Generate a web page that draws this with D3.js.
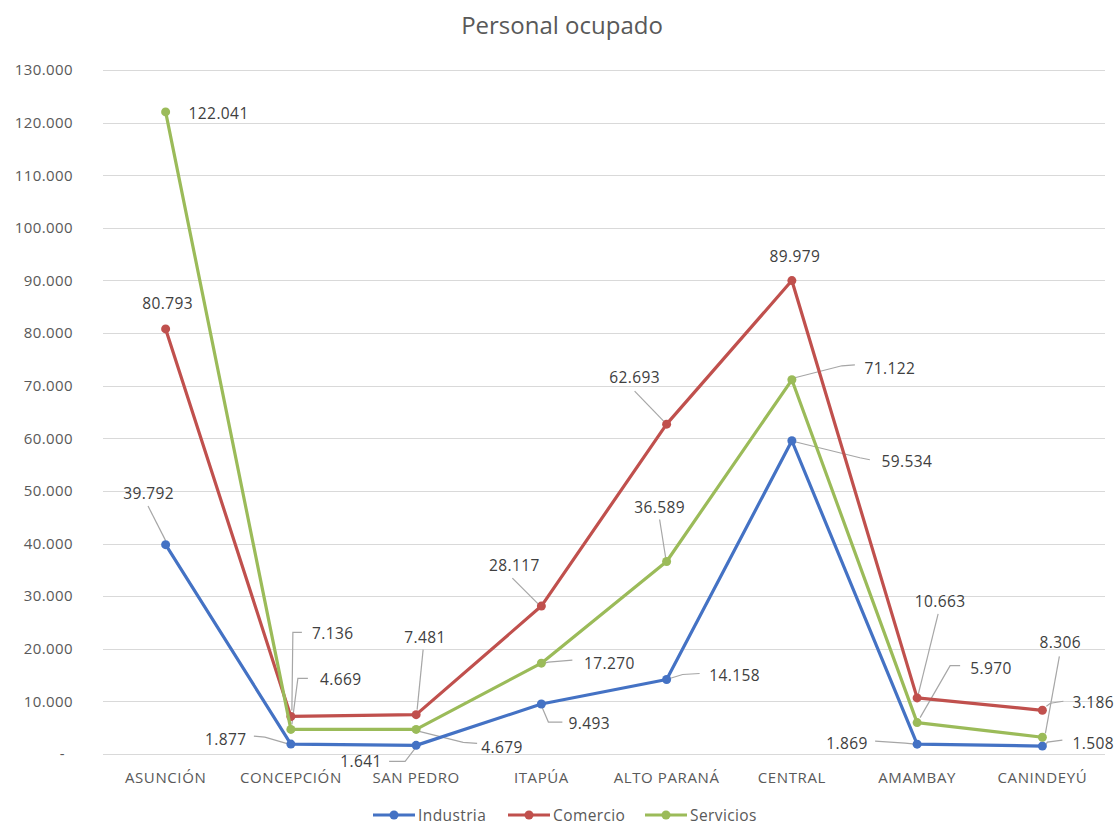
<!DOCTYPE html>
<html>
<head>
<meta charset="utf-8">
<script src="https://cdn.jsdelivr.net/npm/d3@7"></script>
<style>
  html, body { margin: 0; padding: 0; background: #fff; }
  svg { display: block; font-family: "Open Sans", "Liberation Sans", sans-serif; }
</style>
</head>
<body>
<svg id="chart" width="1116" height="825"></svg>
<script>
// ---- data ----
const categories = ["ASUNCIÓN", "CONCEPCIÓN", "SAN PEDRO", "ITAPÚA", "ALTO PARANÁ", "CENTRAL", "AMAMBAY", "CANINDEYÚ"];
const industria = [39792, 1877, 1641, 9493, 14158, 59534, 1869, 1508];
const comercio  = [80793, 7136, 7481, 28117, 62693, 89979, 10663, 8306];
const servicios = [122041, 4669, 4679, 17270, 36589, 71122, 5970, 3186];
const seriesNames = ["Industria", "Comercio", "Servicios"];
const yTicks = [0, 10000, 20000, 30000, 40000, 50000, 60000, 70000, 80000, 90000, 100000, 110000, 120000, 130000];

// ---- label layout (pixel offsets relative to each point) ----
const labelLayout = {
  Industria: [
    {dx: -17, dy: -52, leader: [[-17.6, -38.6], [0, -4]]},
    {dx: -65, dy: -5, leader: [[-37, -8], [-26, -7], [-2, 0]]},
    {dx: -55, dy: 16, leader: [[-27, 16], [-11, 16], [-1, 3]]},
    {dx: 48, dy: 19, leader: [[1, 4], [7, 18], [21, 18]]},
    {dx: 68, dy: -5, leader: [[3, -1], [16, -5], [33, -6]]},
    {dx: 115, dy: 20, leader: [[3, 1], [68, 17], [78, 19]]},
    {dx: -70, dy: -1, leader: [[-42, -3], [-12, -1], [-2, 0]]},
    {dx: 51, dy: -3, leader: [[3, -1], [5, -4], [20, -6]]}
  ],
  Comercio: [
    {dx: 2, dy: -26, leader: null},
    {dx: 42, dy: -83, leader: [[11, -84], [2, -84], [1, -6]]},
    {dx: 9, dy: -78, leader: [[7, -65], [1, -5]]},
    {dx: -27, dy: -41, leader: [[-29, -28], [-3, -2]]},
    {dx: -32, dy: -47, leader: [[-32, -33], [-3, -3]]},
    {dx: 3, dy: -25, leader: null},
    {dx: 23, dy: -97, leader: [[21, -84], [1, -3]]},
    {dx: 18, dy: -68, leader: [[17, -54], [3, 23]]}
  ],
  Servicios: [
    {dx: 53, dy: 1, leader: null},
    {dx: 50, dy: -50, leader: [[17, -51], [7, -51], [1, -5]]},
    {dx: 86, dy: 18, leader: [[3, 2], [47, 13], [61, 14]]},
    {dx: 68, dy: 0, leader: [[3, 0], [7, -1], [31, -3]]},
    {dx: -7, dy: -54, leader: [[-7, -42], [-1, -4]]},
    {dx: 98, dy: -12, leader: [[3, -2], [50, -14], [63, -15]]},
    {dx: 74, dy: -55, leader: [[43, -57], [33, -57], [3, -5]]},
    {dx: 51, dy: -35, leader: [[21, -36], [8, -34], [4, -31]]}
  ]
};

const colors = {Industria: "#4472C4", Comercio: "#C0504D", Servicios: "#9BBB59"};
const seriesData = {Industria: industria, Comercio: comercio, Servicios: servicios};

// ---- layout ----
const svg = d3.select("#chart");
const margin = {left: 103, right: 11, top: 70, bottom: 71};
const W = 1116, H = 825;

const x = d3.scaleBand().domain(categories).range([margin.left, W - margin.right]);
const y = d3.scaleLinear().domain([0, 130000]).range([H - margin.bottom, margin.top]);

const fmt = v => v === 0 ? "-" : d3.format(",")(v).replace(/,/g, ".");

// title
svg.append("text")
  .attr("x", 562).attr("y", 34)
  .attr("text-anchor", "middle")
  .attr("font-size", 24)
  .attr("fill", "#595959")
  .text("Personal ocupado");

// gridlines
svg.append("g").selectAll("line").data(yTicks).join("line")
  .attr("x1", margin.left).attr("x2", W - margin.right)
  .attr("y1", d => Math.round(y(d)) + 0.5).attr("y2", d => Math.round(y(d)) + 0.5)
  .attr("stroke", "#D9D9D9").attr("stroke-width", 1.2);

// y axis labels
const yAxis = d3.axisLeft(y).tickValues(yTicks).tickFormat(fmt).tickSize(0).tickPadding(0);
const yg = svg.append("g").attr("transform", `translate(73,0)`).call(yAxis);
yg.select(".domain").remove();
yg.selectAll("text").attr("font-size", 15).attr("fill", "#595959")
  .attr("font-family", "'Open Sans', sans-serif")
  .attr("letter-spacing", 0.4)
  .attr("dx", d => d === 0 ? -8 : 0);

// x axis labels
const xAxis = d3.axisBottom(x).tickSize(0).tickPadding(0);
const xg = svg.append("g").attr("transform", `translate(0,${H - margin.bottom + 18})`).call(xAxis);
xg.select(".domain").remove();
xg.selectAll("text").attr("font-size", 15).attr("fill", "#595959")
  .attr("font-family", "'Open Sans', sans-serif")
  .attr("letter-spacing", 0.6);

const cx = c => x(c) + x.bandwidth() / 2;
const line = d3.line().x((d, i) => cx(categories[i])).y(d => y(d));

// leader lines (drawn below series)
const leaderG = svg.append("g");
// series lines & markers
seriesNames.forEach(name => {
  const vals = seriesData[name];
  svg.append("path").datum(vals)
    .attr("d", line)
    .attr("fill", "none")
    .attr("stroke", colors[name])
    .attr("stroke-width", 3.2)
    .attr("stroke-linejoin", "round");
  svg.append("g").selectAll("circle").data(vals).join("circle")
    .attr("cx", (d, i) => cx(categories[i]))
    .attr("cy", d => y(d))
    .attr("r", 4.5)
    .attr("fill", colors[name]);
});

// data labels
const labelG = svg.append("g");
seriesNames.forEach(name => {
  const vals = seriesData[name];
  vals.forEach((v, i) => {
    const px = cx(categories[i]), py = y(v);
    const L = labelLayout[name][i];
    if (L.leader) {
      const pts = L.leader.map(p => [px + p[0], py + p[1]]);
      leaderG.append("path")
        .attr("d", d3.line()(pts))
        .attr("fill", "none")
        .attr("stroke", "#A6A6A6")
        .attr("stroke-width", 1.2);
    }
    labelG.append("text")
      .attr("x", px + L.dx).attr("y", py + L.dy)
      .attr("text-anchor", "middle")
      .attr("dominant-baseline", "central")
      .attr("font-size", 15.5)
      .attr("letter-spacing", 0.4)
      .attr("fill", "#404040")
      .text(fmt(v));
  });
});

// legend
const legendItems = [
  {name: "Industria", x0: 373},
  {name: "Comercio", x0: 508},
  {name: "Servicios", x0: 645}
];
const lg = svg.append("g");
legendItems.forEach(it => {
  lg.append("line")
    .attr("x1", it.x0).attr("x2", it.x0 + 42)
    .attr("y1", 815).attr("y2", 815)
    .attr("stroke", colors[it.name]).attr("stroke-width", 3.2);
  lg.append("circle").attr("cx", it.x0 + 21).attr("cy", 815).attr("r", 4.5).attr("fill", colors[it.name]);
  lg.append("text").attr("x", it.x0 + 45).attr("y", 815)
    .attr("dominant-baseline", "central")
    .attr("font-size", 15.5).attr("fill", "#595959")
    .attr("letter-spacing", 0.4)
    .text(it.name);
});
</script>
</body>
</html>
